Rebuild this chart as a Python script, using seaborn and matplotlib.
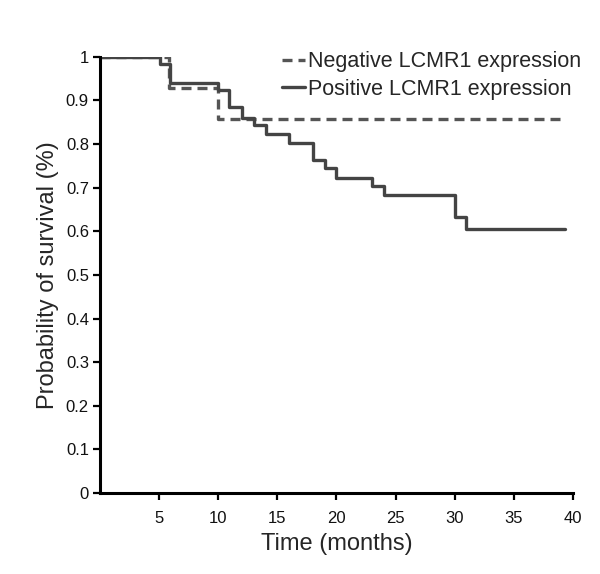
import pandas as pd
import matplotlib
matplotlib.use("Agg")
import matplotlib.pyplot as plt
import seaborn as sns

# Kaplan-Meier step curves
neg_time = [0, 5.8, 10.0, 39.3]
neg_surv = [1.0, 0.929, 0.857, 0.857]

pos_time = [0, 5.1, 5.9, 10.0, 10.9, 12.0, 13.0, 14.0, 16.0, 18.0, 19.0,
            20.0, 23.0, 24.0, 30.0, 31.0, 39.3]
pos_surv = [1.0, 0.983, 0.941, 0.924, 0.884, 0.860, 0.844, 0.823, 0.802,
            0.764, 0.746, 0.723, 0.705, 0.683, 0.632, 0.606, 0.606]

groups = ["Negative LCMR1 expression", "Positive LCMR1 expression"]
x_ticks = [5, 10, 15, 20, 25, 30, 35, 40]
y_ticks = [0, 0.1, 0.2, 0.3, 0.4, 0.5, 0.6, 0.7, 0.8, 0.9, 1]
y_labels = ["0", "0.1", "0.2", "0.3", "0.4", "0.5", "0.6", "0.7", "0.8", "0.9", "1"]

df = pd.concat([
    pd.DataFrame({"time": neg_time, "survival": neg_surv, "group": groups[0]}),
    pd.DataFrame({"time": pos_time, "survival": pos_surv, "group": groups[1]}),
])

sns.set_style("ticks")
plt.rcParams["font.family"] = ["Liberation Sans", "DejaVu Sans"]

fig = plt.figure(figsize=(6, 5.74), dpi=100)
ax = fig.add_axes([0.1667, 0.141, 0.788, 0.760])

sns.lineplot(data=df, x="time", y="survival", hue="group", style="group",
             palette={groups[0]: "#555555", groups[1]: "#444444"},
             dashes={groups[0]: (3.0, 1.8), groups[1]: ""},
             drawstyle="steps-post", estimator=None, sort=False,
             linewidth=2.4, ax=ax)

ax.set_xlim(0, 40)
ax.set_ylim(0, 1)
ax.set_xticks(x_ticks)
ax.set_xticklabels([str(t) for t in x_ticks])
ax.set_yticks(y_ticks)
ax.set_yticklabels(y_labels)
ax.tick_params(axis="both", labelsize=12, length=5, width=1.6, color="black",
               labelcolor="#111111")
ax.tick_params(axis="x", pad=8)
ax.tick_params(axis="y", pad=3)
for side in ["left", "bottom"]:
    ax.spines[side].set_linewidth(2.2)
    ax.spines[side].set_color("black")
sns.despine(ax=ax)

ax.set_xlabel("Time (months)", fontsize=17, labelpad=5)
ax.set_ylabel("Probability of survival (%)", fontsize=17, labelpad=5)

handles, labels = ax.get_legend_handles_labels()
ax.legend(handles, labels, loc="upper left", bbox_to_anchor=(0.456, 0.926),
          bbox_transform=fig.transFigure, frameon=False, fontsize=15.5,
          handlelength=1.05, handletextpad=0.15, labelspacing=0.3,
          borderaxespad=0)

fig.savefig("out.png", dpi=100)
